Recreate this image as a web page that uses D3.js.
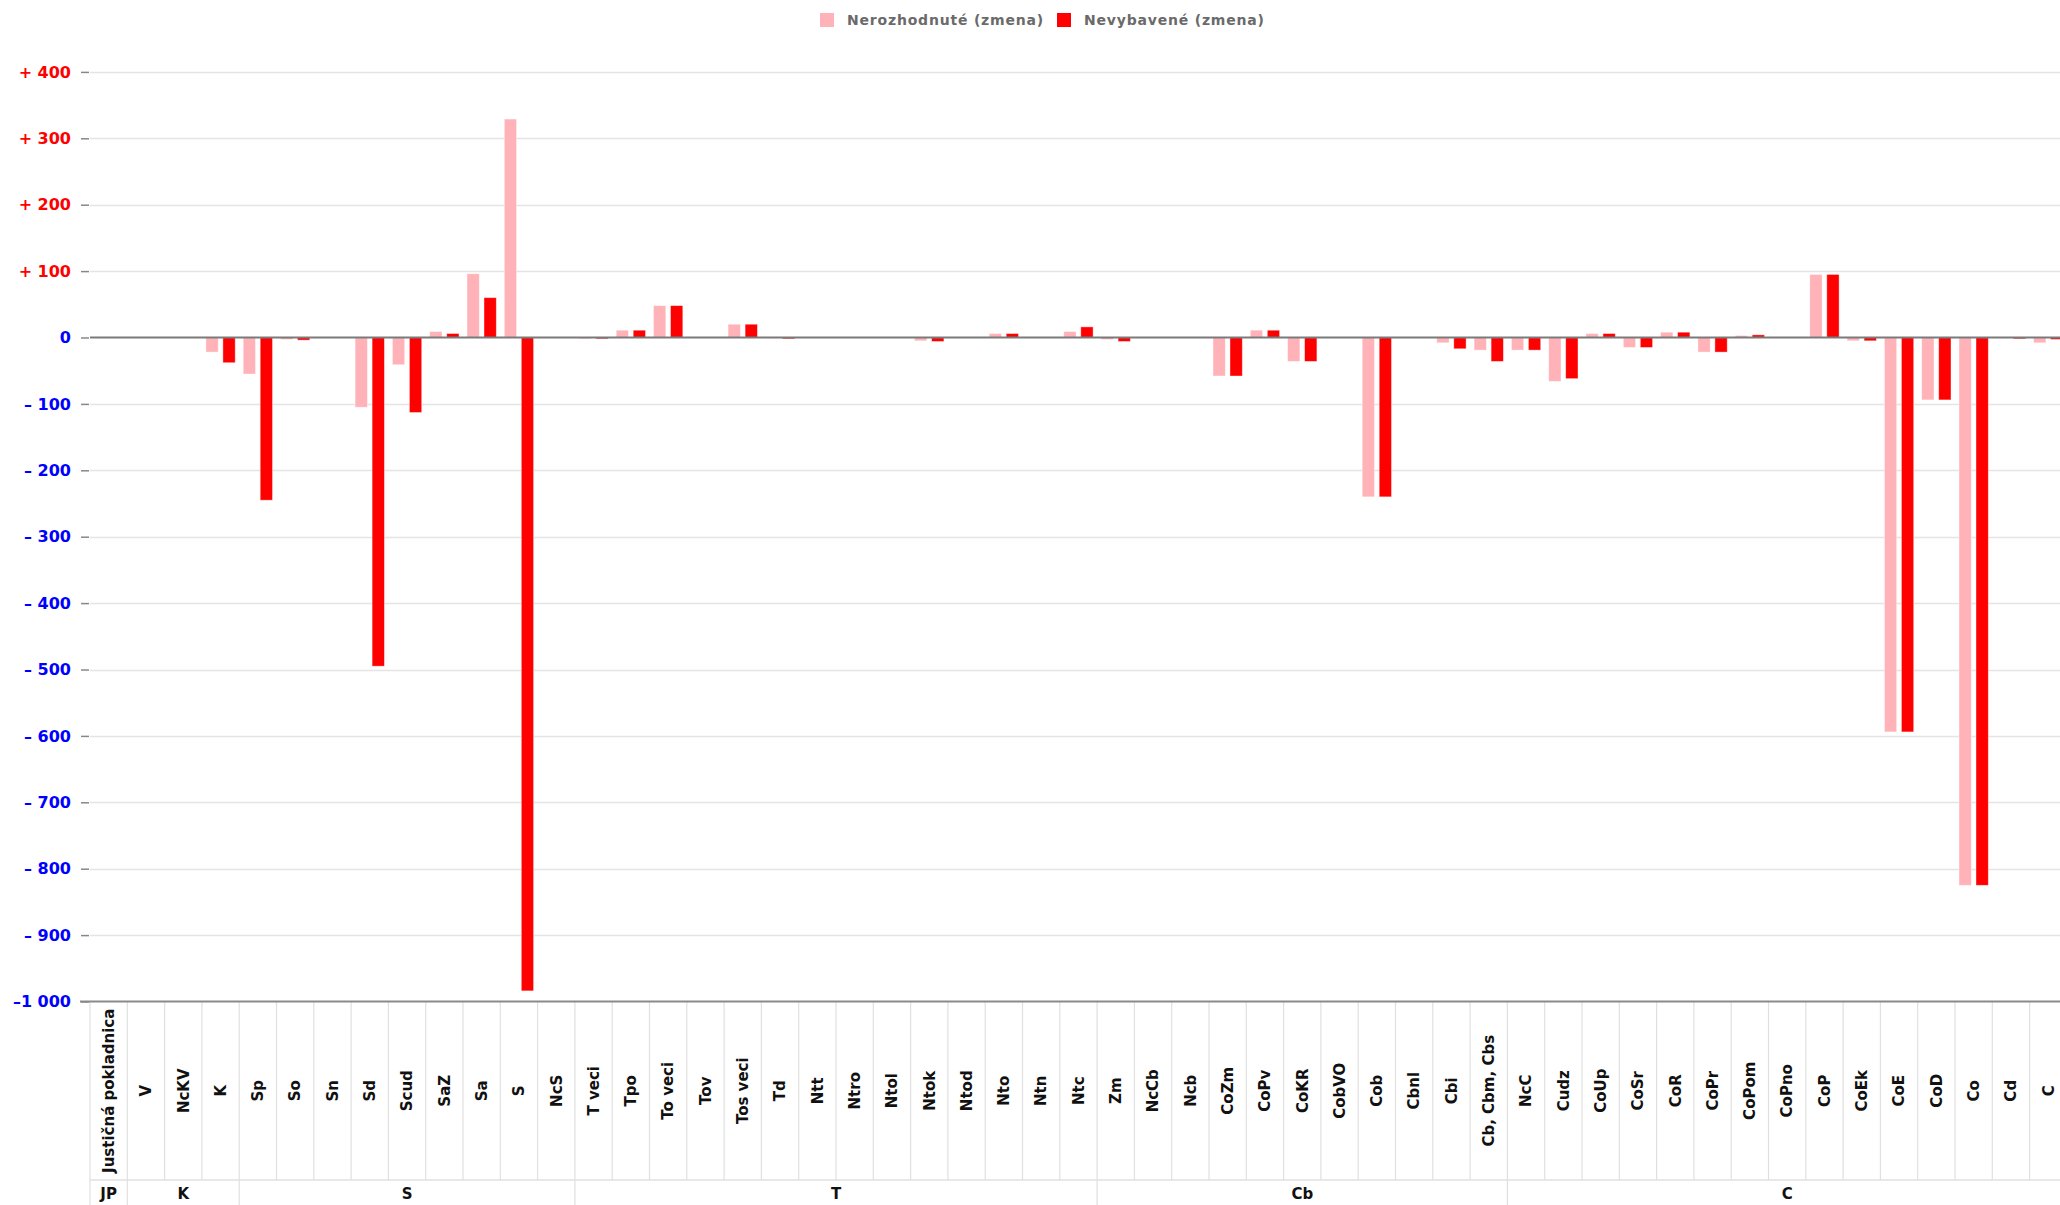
<!DOCTYPE html>
<html>
<head>
<meta charset="utf-8">
<script src="https://cdn.jsdelivr.net/npm/d3@7"></script>
<style>
  body { margin: 0; background: #fff; }
  svg { display: block; font-family: "DejaVu Sans", sans-serif; }
</style>
</head>
<body>
<div id="chart"></div>
<script>
// Categories (bottom table) and their groups
const categories = ["Justičná pokladnica", "V", "NcKV", "K", "Sp", "So", "Sn", "Sd", "Scud", "SaZ", "Sa", "S", "NcS",
    "T veci", "Tpo", "To veci", "Tov", "Tos veci", "Td", "Ntt", "Ntro", "Ntol", "Ntok", "Ntod", "Nto", "Ntn", "Ntc",
    "Zm", "NcCb", "Ncb", "CoZm", "CoPv", "CoKR", "CobVO", "Cob", "Cbnl", "Cbi", "Cb, Cbm, Cbs",
    "NcC", "Cudz", "CoUp", "CoSr", "CoR", "CoPr", "CoPom", "CoPno", "CoP", "CoEk", "CoE", "CoD", "Co", "Cd", "C"];
const groupNames = ["JP", "K", "S", "T", "Cb", "C"];
const groupSizes = [1, 3, 9, 14, 11, 15];

// Series values
const seriesNames = ["Nerozhodnuté (zmena)", "Nevybavené (zmena)"];
const nerozhodnute = [0, 0, 0, -22, -55, -3, 0, -105, -41, 9, 96, 329, 0,
    -2, 11, 48, 0, 20, -1, 0, 0, 0, -5, 0, 6, 0, 9,
    -3, 0, 0, -58, 11, -36, 0, -240, 0, -8, -19,
    -19, -66, 6, -15, 8, -22, 3, 0, 95, -5, -594, -94, -825, -1, -8];
const nevybavene = [0, 0, 0, -38, -245, -4, 0, -495, -113, 6, 60, -984, 0,
    -2, 11, 48, 0, 20, -2, 0, 0, 0, -6, 0, 6, 0, 16,
    -6, 0, 0, -58, 11, -36, 0, -240, 0, -17, -36,
    -19, -62, 6, -15, 8, -22, 4, 0, 95, -5, -594, -94, -825, -2, -3];

// Y axis ticks
const yTickValues = [400, 300, 200, 100, 0, -100, -200, -300, -400, -500, -600, -700, -800, -900, -1000];
const yTickLabels = ["+ 400", "+ 300", "+ 200", "+ 100", "0", "– 100", "– 200", "– 300", "– 400", "– 500",
    "– 600", "– 700", "– 800", "– 900", "–1 000"];

const colors = ["#ffb3b8", "#ff0000"];

const W = 2060, H = 1205;
const plotLeft = 90, colW = 37.3;
const yTop = 71.9, yBottom = 1001.5;
const labelRowBottom = 1180;

const svg = d3.select("#chart")
    .append("svg")
    .attr("width", W)
    .attr("height", H);

const x = d3.scaleBand()
    .domain(categories)
    .range([plotLeft, plotLeft + categories.length * colW])
    .padding(0);

const x1 = d3.scaleBand()
    .domain([0, 1])
    .range([0, x.bandwidth()])
    .paddingInner(0.276)
    .paddingOuter(0.235);

const y = d3.scaleLinear()
    .domain([-1000, 400])
    .range([yBottom, yTop]);

const plotRight = plotLeft + categories.length * colW;

// Grid lines
svg.append("g")
    .selectAll("line")
    .data(yTickValues.filter(d => d !== 0 && d !== -1000))
    .enter()
    .append("line")
    .attr("x1", plotLeft)
    .attr("x2", plotRight)
    .attr("y1", d => Math.round(y(d)) + 0.5)
    .attr("y2", d => Math.round(y(d)) + 0.5)
    .attr("stroke", "#e4e4e4")
    .attr("stroke-width", 1.5);

// Y axis
const yAxis = d3.axisLeft(y)
    .tickValues(yTickValues)
    .tickSize(8)
    .tickPadding(10)
    .tickFormat((d, i) => yTickLabels[i]);

const gy = svg.append("g")
    .attr("transform", `translate(${plotLeft - 1},0)`)
    .call(yAxis);
gy.select(".domain").remove();
gy.selectAll(".tick line").attr("stroke", "#888").attr("stroke-width", 1.5);
gy.selectAll(".tick text")
    .attr("font-family", "DejaVu Sans")
    .attr("font-size", 16)
    .attr("font-weight", "bold")
    .attr("fill", d => d > 0 ? "#ff0000" : "#0000ff");

// Bars
const series = [nerozhodnute, nevybavene];
series.forEach(function (values, s) {
    svg.append("g")
        .selectAll("rect")
        .data(values)
        .enter()
        .append("rect")
        .attr("x", (d, i) => x(categories[i]) + x1(s))
        .attr("width", x1.bandwidth())
        .attr("y", d => y(Math.max(0, d)))
        .attr("height", d => Math.abs(y(d) - y(0)))
        .attr("fill", colors[s])
        .attr("stroke", "#fff")
        .attr("stroke-opacity", 0.5)
        .attr("stroke-width", 0.8);
});

// Zero line
svg.append("line")
    .attr("x1", plotLeft)
    .attr("x2", plotRight)
    .attr("y1", y(0))
    .attr("y2", y(0))
    .attr("stroke", "#7a7a7a")
    .attr("stroke-width", 1.8);

// Table under the plot: column borders
svg.append("g")
    .selectAll("line")
    .data(d3.range(categories.length + 1))
    .enter()
    .append("line")
    .attr("x1", i => plotLeft + i * colW)
    .attr("x2", i => plotLeft + i * colW)
    .attr("y1", yBottom)
    .attr("y2", labelRowBottom)
    .attr("stroke", "#e0e0e0")
    .attr("stroke-width", 1.2);

svg.append("line")
    .attr("x1", plotLeft)
    .attr("x2", plotRight)
    .attr("y1", labelRowBottom)
    .attr("y2", labelRowBottom)
    .attr("stroke", "#e0e0e0")
    .attr("stroke-width", 1.5);

// Bottom axis line
svg.append("line")
    .attr("x1", plotLeft - 10)
    .attr("x2", plotRight)
    .attr("y1", yBottom)
    .attr("y2", yBottom)
    .attr("stroke", "#8a8a8a")
    .attr("stroke-width", 1.8);

// Category labels (rotated)
svg.append("g")
    .selectAll("text")
    .data(categories)
    .enter()
    .append("text")
    .attr("transform", d => `translate(${x(d) + x.bandwidth() / 2},${(yBottom + labelRowBottom) / 2}) rotate(-90)`)
    .attr("text-anchor", "middle")
    .attr("dy", "0.35em")
    .attr("font-size", 15)
    .attr("font-weight", "bold")
    .attr("fill", "#111")
    .text(d => d);

// Group row
const groupStarts = d3.cumsum([0].concat(groupSizes)).slice(0, groupSizes.length);
svg.append("g")
    .selectAll("line")
    .data(d3.range(groupSizes.length + 1))
    .enter()
    .append("line")
    .attr("x1", i => plotLeft + (i < groupSizes.length ? groupStarts[i] : categories.length) * colW)
    .attr("x2", i => plotLeft + (i < groupSizes.length ? groupStarts[i] : categories.length) * colW)
    .attr("y1", labelRowBottom)
    .attr("y2", H)
    .attr("stroke", "#e0e0e0")
    .attr("stroke-width", 1.2);

svg.append("g")
    .selectAll("text")
    .data(groupNames)
    .enter()
    .append("text")
    .attr("x", (d, i) => plotLeft + (groupStarts[i] + groupSizes[i] / 2) * colW)
    .attr("y", 1199)
    .attr("text-anchor", "middle")
    .attr("font-size", 15)
    .attr("font-weight", "bold")
    .attr("fill", "#111")
    .text(d => d);

// Legend
const legend = svg.append("g").attr("transform", "translate(820,13)");
const legendX = [0, 237];
seriesNames.forEach(function (name, s) {
    legend.append("rect")
        .attr("x", legendX[s])
        .attr("y", 0)
        .attr("width", 14)
        .attr("height", 14)
        .attr("fill", colors[s]);
    legend.append("text")
        .attr("x", legendX[s] + 27)
        .attr("y", 12)
        .attr("font-size", 14)
        .attr("font-weight", "bold")
        .attr("letter-spacing", 0.8)
        .attr("fill", "#6a6a6a")
        .text(name);
});
</script>
</body>
</html>
